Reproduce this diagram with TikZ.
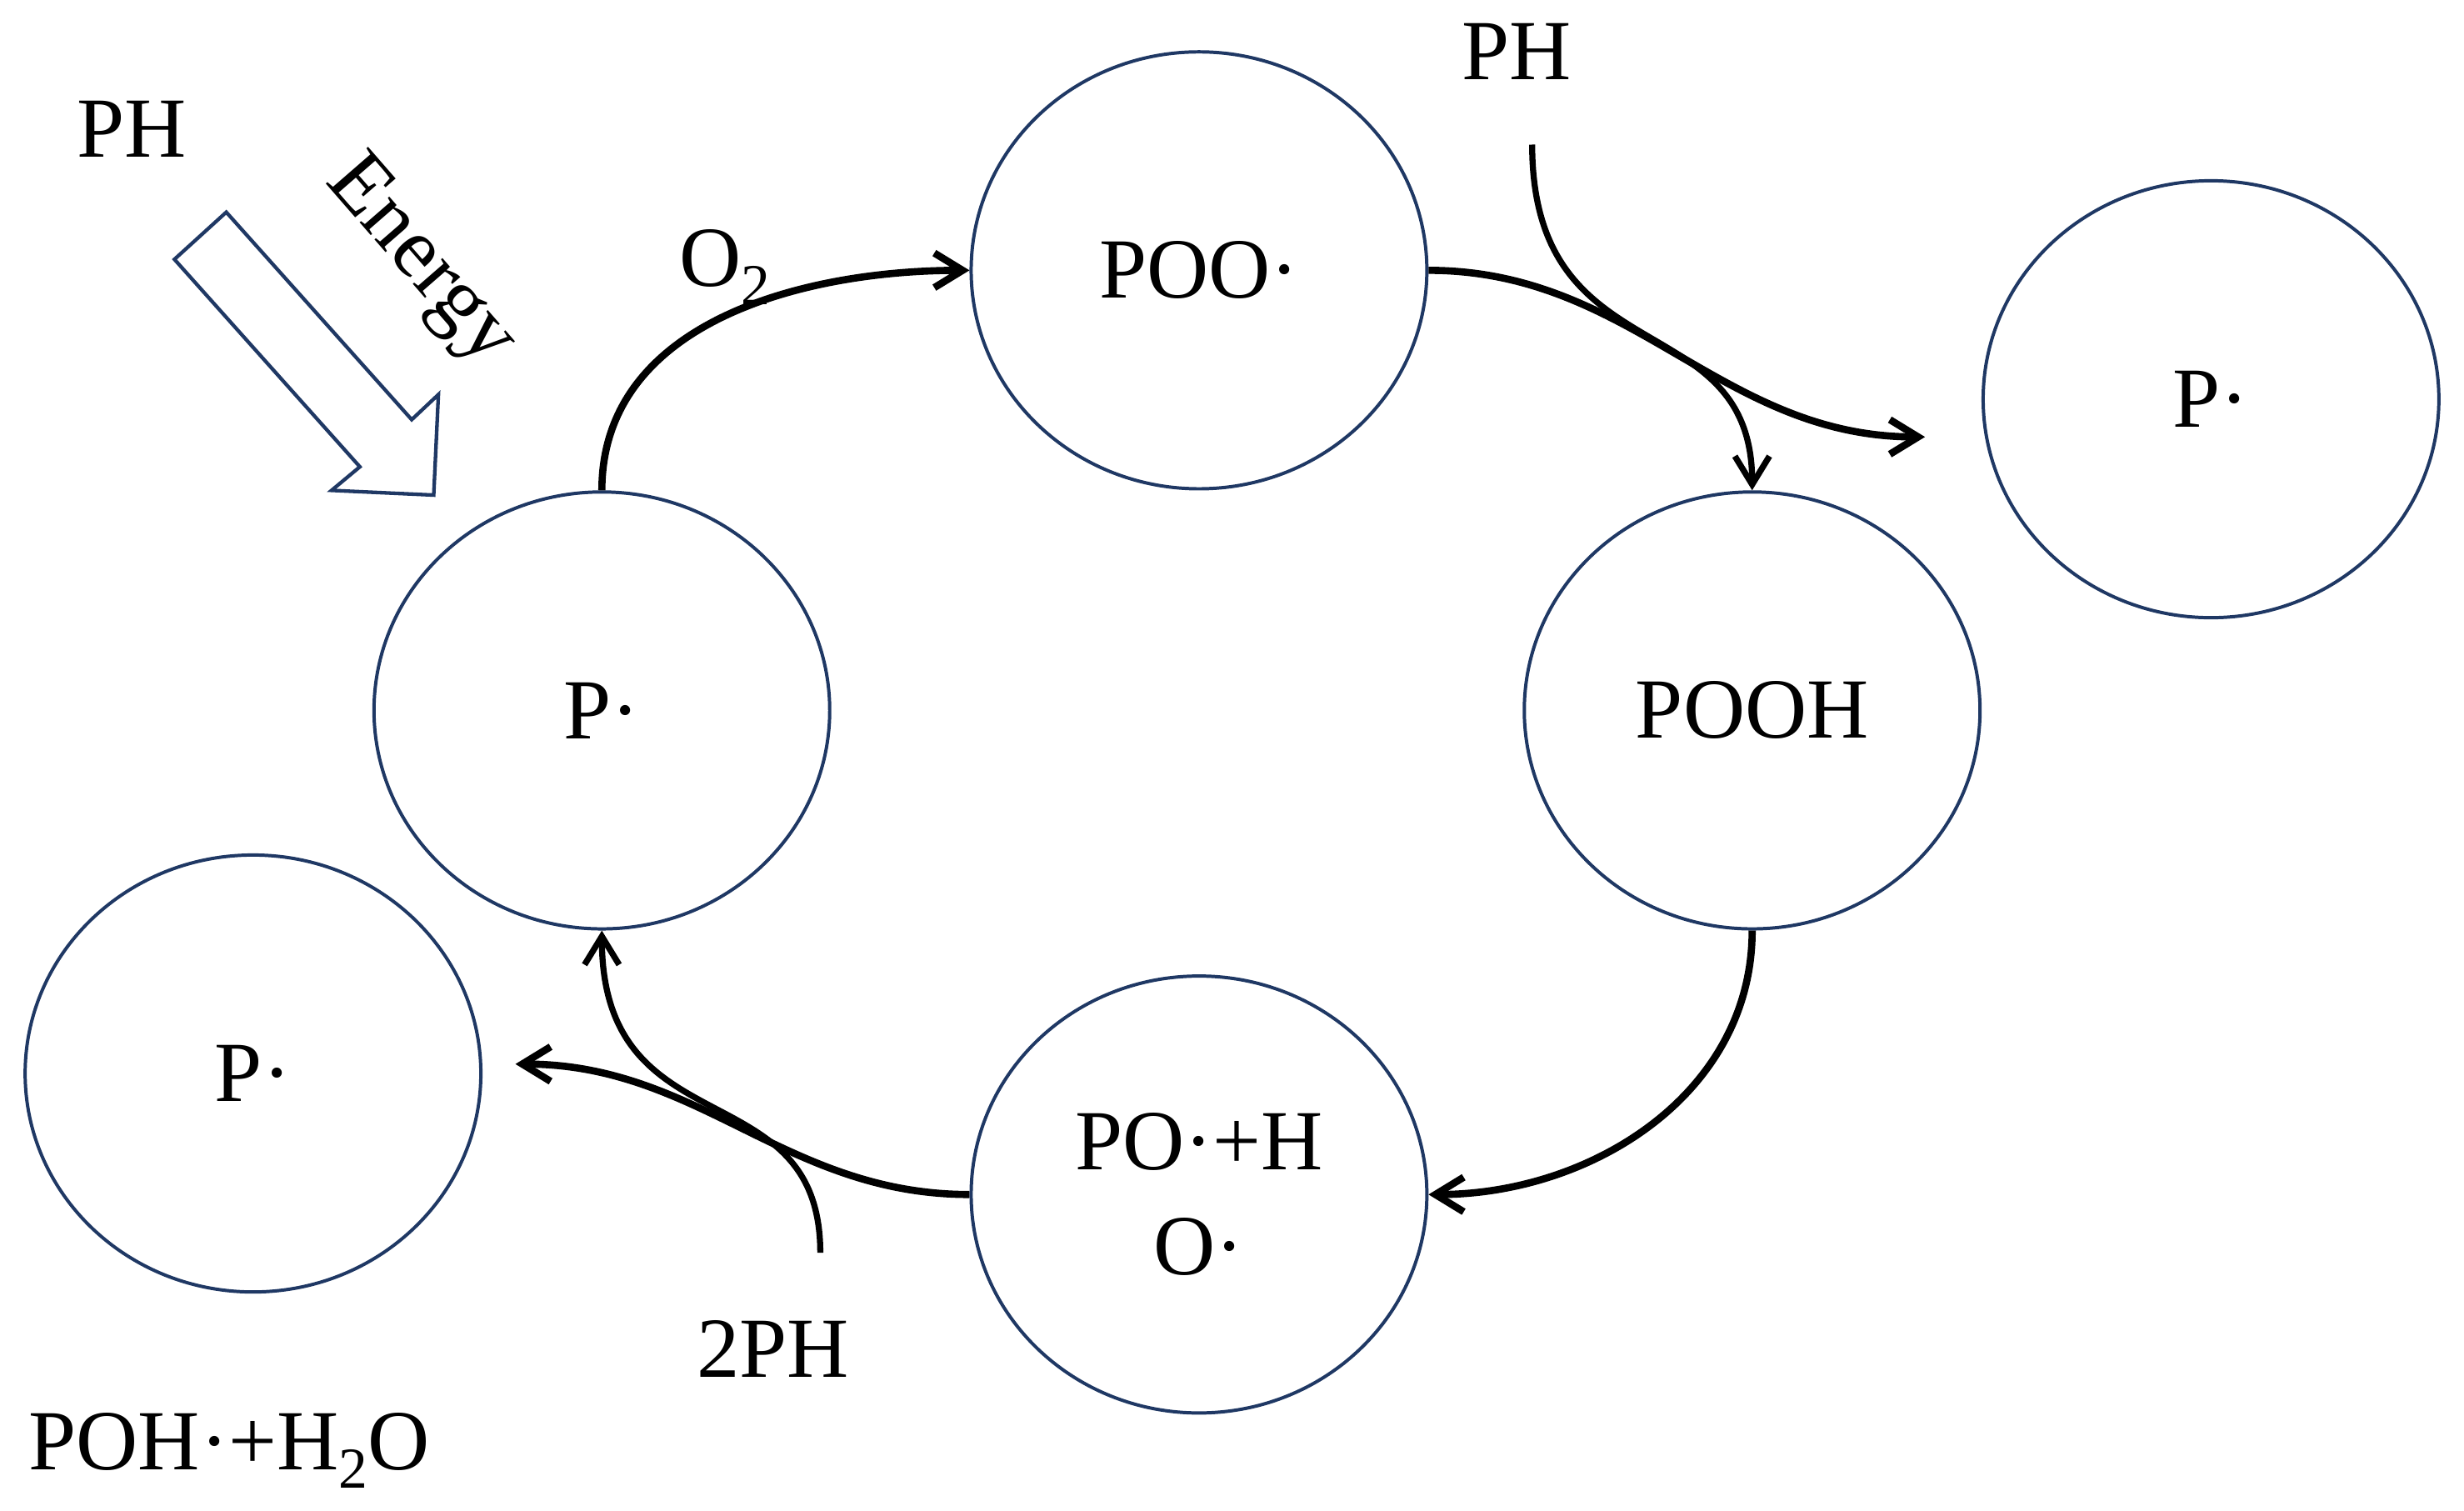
\documentclass[tikz,border=0pt]{standalone}
\usepackage{fontspec}
\setmainfont{Liberation Serif}
\usetikzlibrary{shapes.geometric,arrows.meta}
\definecolor{navy}{HTML}{1F3864}
\newcommand\mainsz{\fontsize{31}{38}\selectfont}
\newcommand\chemsub[1]{\raisebox{-0.22em}{\fontsize{21}{21}\selectfont #1}}
\begin{document}
\begin{tikzpicture}[x=0.2mm,y=0.2mm,
  species/.style={ellipse,draw=navy,line width=1.2pt,minimum width=58mm,minimum height=55.6mm,inner sep=0pt,font=\mainsz,align=center},
  lbl/.style={inner sep=0pt,font=\mainsz},
  flow/.style={line width=2.6pt,-{Straight Barb[length=3.6mm,width=4.4mm]}},
  feed/.style={line width=2.2pt,-{Straight Barb[length=3.6mm,width=4.4mm]}},
  blockarrow/.style={draw=navy,line width=1.3pt,fill=white,line join=miter}
]
\useasboundingbox (0,0) rectangle (1568,-961);

% species
\node[species] (poo)  at (763,-172)  {POO·};
\node[species] (pr)   at (1407,-254) {P·};
\node[species] (pooh) at (1115,-452) {POOH};
\node[species] (poho) at (763,-760)  {PO·+H\\O·};
\node[species] (pl)   at (383,-452)  {P·};
\node[species] (pbl)  at (161,-683)  {P·};

% labels
\node[lbl] (phleft) at (84,-82) {PH};
\node[lbl,rotate=-49] (energy) at (267,-167) {Energy};
\node[lbl,anchor=base west] (otwo) at (432,-182) {O\chemsub{2}};
\node[lbl] (phtop) at (965,-33) {PH};
\node[lbl] (twoph) at (492,-858) {2PH};
\node[lbl,anchor=base west] (prod) at (18,-935) {POH·+H\chemsub{2}O};

% energy block arrow
\draw[blockarrow] (111,-165) -- (144,-135) -- (262,-267) -- (279,-251)
  -- (276,-315) -- (211,-312) -- (229,-297) -- cycle;

% free ends
\coordinate (phstart) at (975,-92);
\coordinate (prend) at (1225,-278);
\coordinate (twophstart) at (522,-797);
\coordinate (pblend) at (328,-677);

% connectors
\draw[flow] (pl.north) to[out=90,in=180] (poo.west);
\draw[flow] (poo.east) to[out=0,in=180] (prend);
\draw[feed] (phstart) .. controls (975,-240) and (1115,-192) .. (pooh.north);
\draw[flow] (pooh.south) to[out=-90,in=0] (poho.east);
\draw[flow] (poho.west) to[out=180,in=0] (pblend);
\draw[feed] (twophstart) .. controls (522,-680) and (383,-732) .. (pl.south);
\end{tikzpicture}
\end{document}
